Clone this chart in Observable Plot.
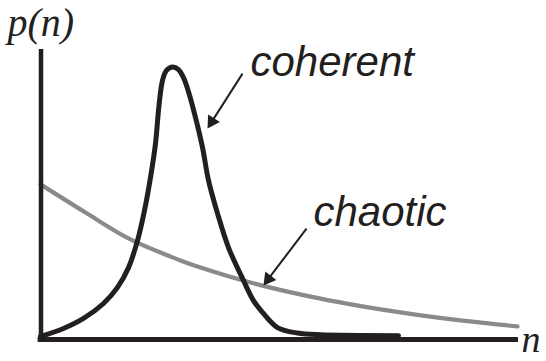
<!DOCTYPE html>
<html>
<head>
<meta charset="utf-8">
<script src="https://cdn.jsdelivr.net/npm/d3@7"></script>
<script src="https://cdn.jsdelivr.net/npm/@observablehq/plot@0.6"></script>
<style>
  html, body { margin: 0; padding: 0; background: #fff; }
  #chart svg { display: block; overflow: visible; }
</style>
</head>
<body>
<div id="chart"></div>
<script>
// Coherent (Poisson-like) photon-number distribution
const coherentN = [0, 1.15, 2.15, 3.15, 3.85, 4.4, 4.85, 5.2, 5.5, 5.75, 5.925, 6.1, 6.3, 6.6, 6.9, 7.15, 7.35, 7.7, 8.1, 8.4, 8.85, 9.4, 10.15, 10.65, 11.1, 11.85, 12.85, 14.0, 17.9];
const coherentP = [0, 0.028, 0.063, 0.115, 0.171, 0.240, 0.334, 0.439, 0.554, 0.672, 0.805, 0.892, 0.927, 0.939, 0.930, 0.902, 0.864, 0.777, 0.659, 0.544, 0.429, 0.310, 0.195, 0.125, 0.084, 0.031, 0.012, 0.006, 0.003];

// Chaotic (thermal) distribution
const chaoticN = [0, 2.25, 4.5, 7.0, 8.0, 10.5, 14.0, 18.0, 21.0, 23.85];
const chaoticP = [0.530, 0.432, 0.338, 0.265, 0.240, 0.188, 0.132, 0.084, 0.056, 0.035];

// Annotation labels and arrows
const labels = ["coherent", "chaotic"];
const labelN = [10.5, 13.65];
const labelP = [0.956, 0.433];
const arrowStartN = [10.1, 13.3];
const arrowStartP = [0.916, 0.376];
const arrowTipN = [8.35, 11.15];
const arrowTipP = [0.725, 0.178];

const axisLabels = ["p(n)", "n"];
const axisLabelN = [-1.65, 24.05];
const axisLabelP = [1.09, -0.012];
const axisLabelSize = [40, 38];

const W = 546, H = 361;
const xDomain = [0, 24], yDomain = [0, 1];
const mL = 40, mR = 26, mT = 49, mB = 25;
const pxPerN = (W - mL - mR) / (xDomain[1] - xDomain[0]);
const pxPerP = (H - mT - mB) / (yDomain[1] - yDomain[0]);

const coherent = coherentN.map((n, i) => ({n, p: coherentP[i]}));
const chaotic = chaoticN.map((n, i) => ({n, p: chaoticP[i]}));
const headR = 5.2;
const tipDist = 2 * Math.sqrt(Math.PI * headR * headR / (3 * Math.sqrt(3)));
const arrows = labels.map((l, i) => {
  const dxp = (arrowTipN[i] - arrowStartN[i]) * pxPerN;
  const dyp = -(arrowTipP[i] - arrowStartP[i]) * pxPerP;
  const len = Math.hypot(dxp, dyp);
  const k = tipDist / len;
  return {
    n1: arrowStartN[i], p1: arrowStartP[i],
    cn: arrowTipN[i] + (arrowStartN[i] - arrowTipN[i]) * k,
    cp: arrowTipP[i] + (arrowStartP[i] - arrowTipP[i]) * k,
    angle: Math.atan2(dxp, -dyp) * 180 / Math.PI
  };
});
const labelData = labels.map((t, i) => ({t, n: labelN[i], p: labelP[i]}));
const axisLabelData = axisLabels.map((t, i) => ({t, n: axisLabelN[i], p: axisLabelP[i], s: axisLabelSize[i]}));

const ink = "#231f20";

const chart = Plot.plot({
  width: W, height: H,
  marginLeft: mL, marginRight: mR, marginTop: mT, marginBottom: mB,
  x: {domain: xDomain, axis: null},
  y: {domain: yDomain, axis: null},
  style: {background: "#fff", overflow: "visible"},
  marks: [
    Plot.line(chaotic, {x: "n", y: "p", stroke: "#8a8a8a", strokeWidth: 4.2, curve: "catmull-rom"}),
    Plot.line(coherent, {x: "n", y: "p", stroke: ink, strokeWidth: 5, curve: "catmull-rom"}),
    Plot.ruleY([0], {x1: -0.12, x2: 23.9, dy: 3, stroke: ink, strokeWidth: 5, strokeLinecap: "butt"}),
    Plot.ruleX([0], {y1: -0.02, y2: 1, dx: 0.5, stroke: ink, strokeWidth: 4.5, strokeLinecap: "butt"}),
    Plot.link(arrows, {x1: "n1", y1: "p1", x2: "cn", y2: "cp", stroke: ink, strokeWidth: 2}),
    Plot.dot(arrows, {x: "cn", y: "cp", symbol: "triangle", r: headR, rotate: "angle", fill: ink, stroke: "none"}),
    Plot.text(labelData, {x: "n", y: "p", text: "t", textAnchor: "start", fontSize: 42, fontStyle: "italic",
      fontFamily: "'Liberation Sans', Arial, Helvetica, sans-serif", fill: ink}),
    Plot.text(axisLabelData, {x: "n", y: "p", text: "t", textAnchor: "start", fontSize: "s", fontStyle: "italic",
      fontFamily: "'Liberation Serif', 'Times New Roman', serif", fill: ink})
  ]
});
document.getElementById("chart").appendChild(chart);
</script>
</body>
</html>
